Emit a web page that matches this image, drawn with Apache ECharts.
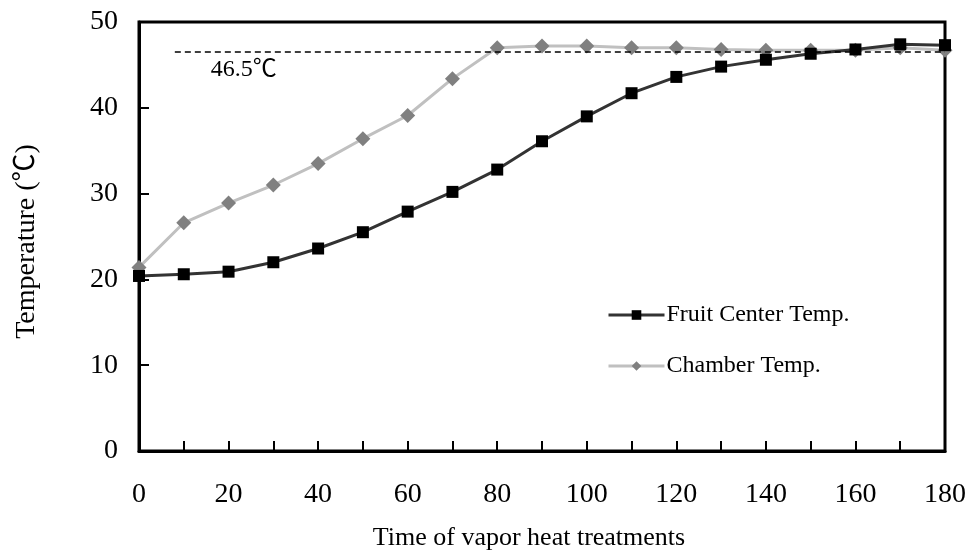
<!DOCTYPE html>
<html>
<head>
<meta charset="utf-8">
<script src="https://cdn.jsdelivr.net/npm/echarts@6/dist/echarts.min.js"></script>
<style>
  html, body { margin: 0; padding: 0; background: #fff; }
  #chart { width: 973px; height: 556px; }
</style>
</head>
<body>
<div id="chart"></div>
<script>
// time (min)
const times = [0, 10, 20, 30, 40, 50, 60, 70, 80, 90, 100, 110, 120, 130, 140, 150, 160, 170, 180]
const fruitTemp = [20.4, 20.6, 20.9, 22.0, 23.6, 25.5, 27.9, 30.2, 32.8, 36.1, 39.0, 41.7, 43.6, 44.8, 45.6, 46.3, 46.8, 47.4, 47.3]
const chamberTemp = [21.4, 26.6, 28.9, 31.0, 33.5, 36.4, 39.1, 43.4, 47.0, 47.2, 47.2, 47.0, 47.0, 46.8, 46.7, 46.7, 46.7, 47.0, 46.7]
const targetTemp = 46.5
const targetStart = 8

const font = "'Liberation Serif', 'Noto Sans CJK SC'"

const chart = echarts.init(document.getElementById('chart'))

const option = {
  animation: false,
  textStyle: { fontFamily: font, color: '#000' },
  grid: {
    left: 139,
    right: 28,
    top: 22,
    bottom: 104,
    show: true,
    borderColor: '#000',
    borderWidth: 3
  },
  legend: {
    orient: 'vertical',
    left: 602,
    top: 298,
    itemWidth: 56,
    itemHeight: 12,
    itemGap: 27,
    textStyle: { fontFamily: font, fontSize: 24, color: '#000', padding: [0, 0, 0, -3] },
    data: [
      { name: 'Fruit Center Temp.', lineStyle: { width: 3 } },
      { name: 'Chamber Temp.', lineStyle: { width: 3 } }
    ]
  },
  xAxis: {
    type: 'value',
    min: 0,
    max: 180,
    interval: 10,
    name: 'Time of vapor heat treatments',
    nameLocation: 'middle',
    nameGap: 74,
    nameTextStyle: { fontFamily: font, fontSize: 26, color: '#000', padding: [0, 26, 0, 0] },
    axisLine: { lineStyle: { color: '#000', width: 3 } },
    axisTick: { inside: true, length: 10, lineStyle: { color: '#000', width: 2 } },
    axisLabel: {
      margin: 30,
      fontFamily: font,
      fontSize: 28,
      color: '#000',
      formatter: v => (v % 20 === 0 ? String(v) : '')
    },
    splitLine: { show: false }
  },
  yAxis: {
    type: 'value',
    min: 0,
    max: 50,
    interval: 10,
    name: 'Temperature (℃)',
    nameLocation: 'middle',
    nameGap: 98,
    nameTextStyle: { fontFamily: font, fontSize: 28, color: '#000', padding: [0, 10, 0, 0] },
    axisLine: { show: true, lineStyle: { color: '#000', width: 3 } },
    axisTick: { show: true, inside: true, length: 10, lineStyle: { color: '#000', width: 2 } },
    axisLabel: { margin: 21, fontFamily: font, fontSize: 28, color: '#000' },
    splitLine: { show: false }
  },
  series: [
    {
      name: 'Fruit Center Temp.',
      type: 'line',
      data: times.map((t, i) => [t, fruitTemp[i]]),
      symbol: 'rect',
      symbolSize: 12,
      lineStyle: { color: '#333', width: 3 },
      itemStyle: { color: '#000' },
      z: 3,
      markLine: {
        silent: true,
        symbol: 'none',
        lineStyle: { color: '#000', type: [6, 4], width: 1.5 },
        label: { show: false },
        data: [[{ coord: [targetStart, targetTemp] }, { coord: [180, targetTemp] }]]
      }
    },
    {
      name: 'Chamber Temp.',
      type: 'line',
      data: times.map((t, i) => [t, chamberTemp[i]]),
      symbol: 'diamond',
      symbolSize: 15,
      lineStyle: { color: '#c0c0c0', width: 3 },
      itemStyle: { color: '#808080' },
      z: 2
    }
  ]
}

chart.setOption(option)

// threshold annotation placed via axis scale
const p = chart.convertToPixel({ gridIndex: 0 }, [targetStart, targetTemp])
chart.setOption({
  graphic: [{
    type: 'text',
    left: p[0] + 36,
    top: p[1] + 6,
    style: { text: targetTemp + '℃', fontFamily: font, fontSize: 24, fill: '#000' }
  }]
})
</script>
</body>
</html>
